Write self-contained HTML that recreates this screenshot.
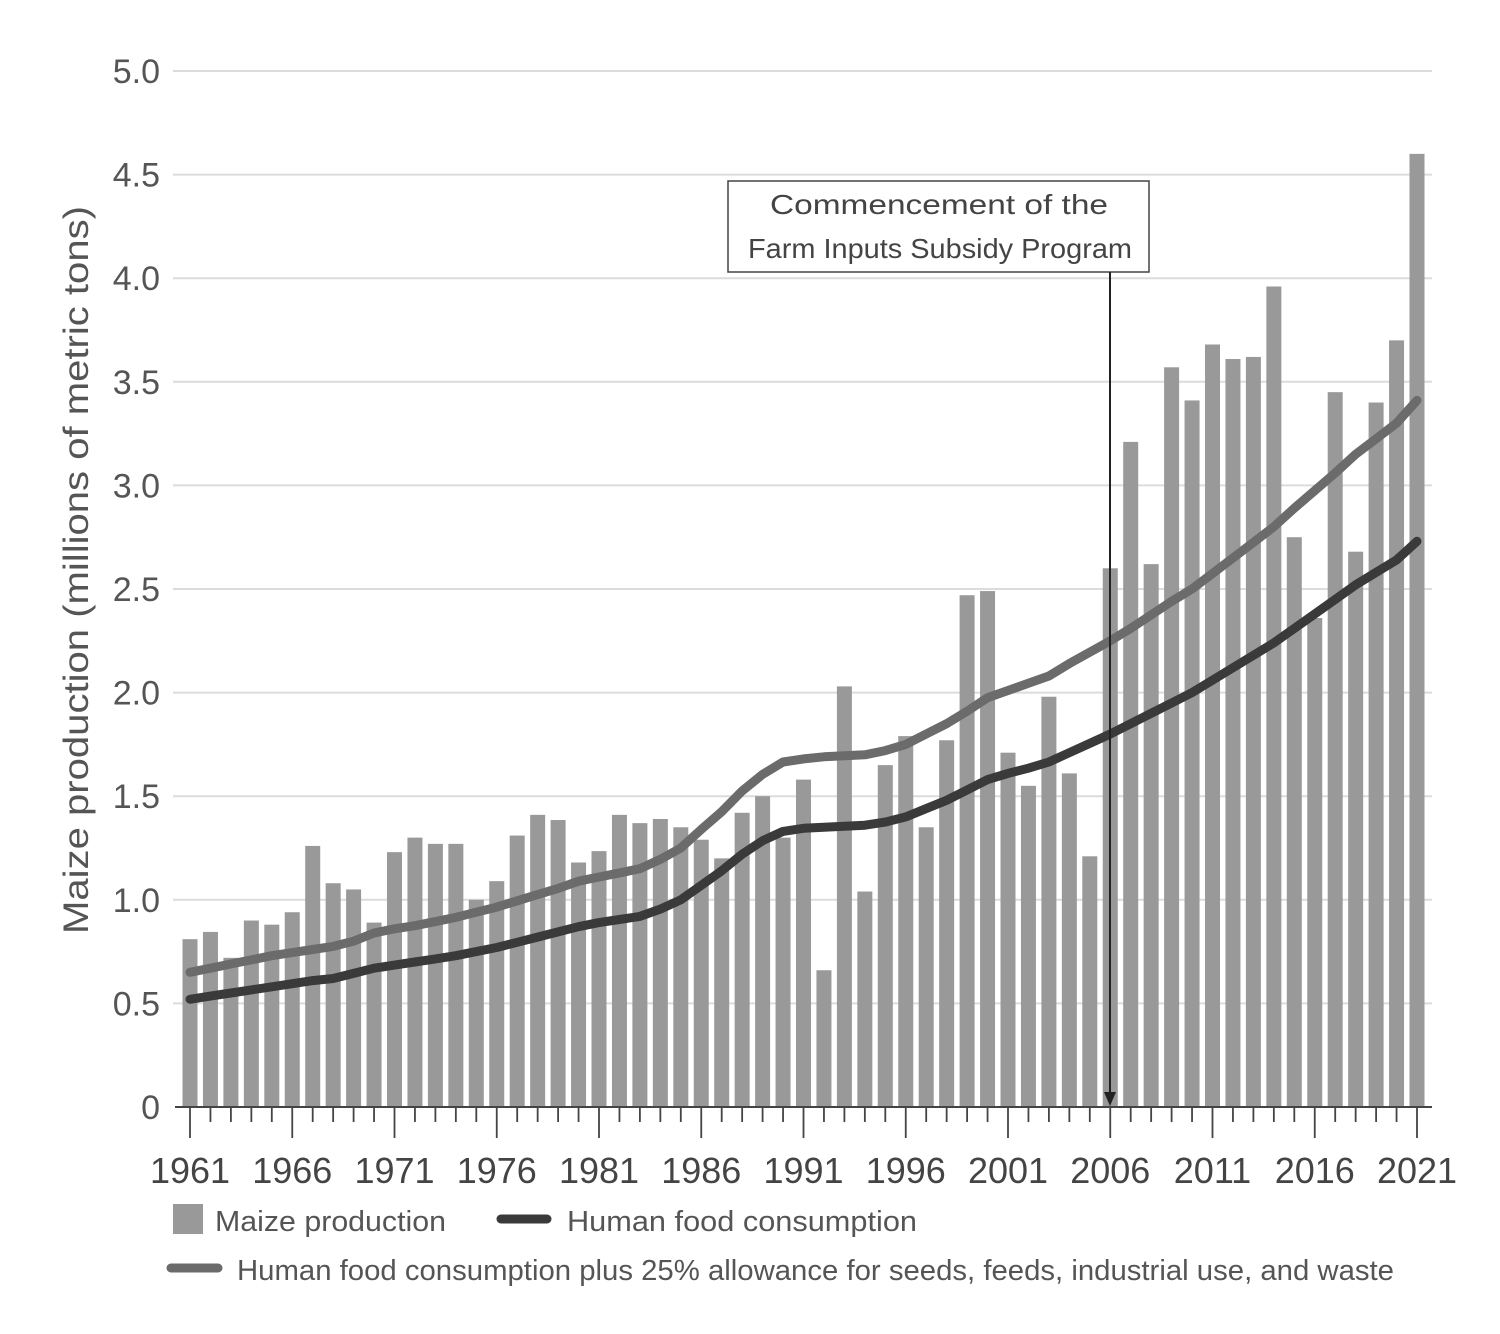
<!DOCTYPE html>
<html><head><meta charset="utf-8"><style>
html,body{margin:0;padding:0;background:#fff;}
svg{display:block;font-family:"Liberation Sans",sans-serif;}
</style></head><body>
<svg id="chart" width="1500" height="1334" viewBox="0 0 1500 1334" xmlns="http://www.w3.org/2000/svg">
<g id="grid"></g>
<g id="ylabels"></g>
<g id="bars"></g>
<g id="lines"></g>
<g id="xaxis"></g>
<text transform="translate(88,570) rotate(-90)" text-anchor="middle" font-size="35" fill="#555" textLength="728" lengthAdjust="spacingAndGlyphs">Maize production (millions of metric tons)</text>
<g>
<rect x="728" y="181" width="421" height="91" fill="#fff" stroke="#444" stroke-width="1.5"/>
<text x="939" y="214" text-anchor="middle" font-size="28" fill="#444" textLength="338" lengthAdjust="spacingAndGlyphs">Commencement of the</text>
<text x="940" y="258" text-anchor="middle" font-size="28" fill="#444" textLength="384" lengthAdjust="spacingAndGlyphs">Farm Inputs Subsidy Program</text>
<line x1="1110" y1="272" x2="1110" y2="1096" stroke="#222" stroke-width="2"/>
<polygon points="1104,1092 1116,1092 1110,1106" fill="#222"/>
</g>
<g>
<rect x="173" y="1204" width="30" height="30" fill="#999"/>
<text x="215" y="1231" font-size="29" fill="#555" textLength="231" lengthAdjust="spacingAndGlyphs">Maize production</text>
<line x1="501" y1="1219" x2="547" y2="1219" stroke="#3a3a3a" stroke-width="9" stroke-linecap="round"/>
<text x="567" y="1231" font-size="29" fill="#555" textLength="350" lengthAdjust="spacingAndGlyphs">Human food consumption</text>
<line x1="171" y1="1268" x2="218" y2="1268" stroke="#6b6b6b" stroke-width="9" stroke-linecap="round"/>
<text x="237" y="1280" font-size="29" fill="#555" textLength="1157" lengthAdjust="spacingAndGlyphs">Human food consumption plus 25% allowance for seeds, feeds, industrial use, and waste</text>
</g>
</svg>
<script>
const years = [];
for (let y = 1961; y <= 2021; y++) years.push(y);
const production = [0.81,0.845,0.72,0.90,0.88,0.94,1.26,1.08,1.05,0.89,
1.23,1.30,1.27,1.27,1.00,1.09,1.31,1.41,1.385,1.18,
1.235,1.41,1.37,1.39,1.35,1.29,1.20,1.42,1.50,1.30,
1.58,0.66,2.03,1.04,1.65,1.79,1.35,1.77,2.47,2.49,
1.71,1.55,1.98,1.61,1.21,2.60,3.21,2.62,3.57,3.41,
3.68,3.61,3.62,3.96,2.75,2.36,3.45,2.68,3.40,3.70,4.60];
const humanFood = [0.52,0.535,0.55,0.565,0.58,0.595,0.61,0.62,0.645,0.67,
0.685,0.70,0.715,0.73,0.75,0.77,0.795,0.82,0.845,0.87,
0.89,0.905,0.92,0.955,1.00,1.07,1.14,1.22,1.285,1.33,
1.345,1.35,1.355,1.36,1.375,1.40,1.44,1.48,1.53,1.58,
1.61,1.635,1.665,1.71,1.755,1.80,1.85,1.90,1.95,2.00,
2.06,2.12,2.18,2.24,2.31,2.38,2.45,2.52,2.58,2.64,2.73];
const withAllowance = [0.65,0.67,0.69,0.71,0.73,0.745,0.76,0.775,0.80,0.84,
0.86,0.875,0.895,0.915,0.94,0.965,0.995,1.025,1.055,1.09,
1.11,1.13,1.15,1.195,1.25,1.34,1.425,1.525,1.605,1.665,
1.68,1.69,1.695,1.70,1.72,1.75,1.80,1.85,1.91,1.975,
2.01,2.045,2.08,2.14,2.195,2.25,2.31,2.375,2.44,2.50,
2.575,2.65,2.725,2.80,2.89,2.975,3.06,3.15,3.225,3.30,3.41];
const yTicks = [0,0.5,1.0,1.5,2.0,2.5,3.0,3.5,4.0,4.5,5.0];
const yTickLabels = ["0","0.5","1.0","1.5","2.0","2.5","3.0","3.5","4.0","4.5","5.0"];
const xLabelYears = [1961,1966,1971,1976,1981,1986,1991,1996,2001,2006,2011,2016,2021];

const NS = "http://www.w3.org/2000/svg";
const X0 = 190, XSTEP = 20.45, Y0 = 1107, YSCALE = 207.2;
const xs = yr => X0 + (yr - 1961) * XSTEP;
const ys = v => Y0 - v * YSCALE;
function mk(tag, attrs, parent) {
  const e = document.createElementNS(NS, tag);
  for (const k in attrs) e.setAttribute(k, attrs[k]);
  parent.appendChild(e);
  return e;
}
const grid = document.getElementById('grid');
const yl = document.getElementById('ylabels');
yTicks.forEach((t, i) => {
  if (t > 0) {
    const l = mk('line', {x1:173, x2:1432, y1:ys(t), y2:ys(t), stroke:'#dcdcdc', 'stroke-width':2}, grid);
    
    
  }
  const tx = mk('text', {x:160, y:ys(t)+12, 'text-anchor':'end', 'font-size':34, fill:'#555'}, yl);
  tx.textContent = yTickLabels[i];
  
  
});
const bars = document.getElementById('bars');
years.forEach((yr, i) => {
  const r = mk('rect', {x:xs(yr)-7.5, y:ys(production[i]), width:15, height:production[i]*YSCALE, fill:'#999'}, bars);
  
  
});
const lines = document.getElementById('lines');
function path(arr) { return arr.map((v, i) => (i ? 'L' : 'M') + xs(years[i]).toFixed(1) + ',' + ys(v).toFixed(1)).join(' '); }
const p1 = mk('path', {d:path(withAllowance), fill:'none', stroke:'#6b6b6b', 'stroke-width':9, 'stroke-linejoin':'round', 'stroke-linecap':'round'}, lines);


const p2 = mk('path', {d:path(humanFood), fill:'none', stroke:'#3a3a3a', 'stroke-width':9, 'stroke-linejoin':'round', 'stroke-linecap':'round'}, lines);


const xa = document.getElementById('xaxis');
const base = mk('line', {x1:175, x2:1432, y1:Y0, y2:Y0, stroke:'#444', 'stroke-width':2}, xa);


years.forEach(yr => {
  const major = xLabelYears.includes(yr);
  const t = mk('line', {x1:xs(yr), x2:xs(yr), y1:Y0, y2:major ? 1138 : 1122, stroke:'#444', 'stroke-width':1.8}, xa);
  
  
});
xLabelYears.forEach(yr => {
  const tx = mk('text', {x:xs(yr), y:1183, 'text-anchor':'middle', 'font-size':36, fill:'#444'}, xa);
  tx.textContent = yr;
  
  
});
</script>
</body></html>
